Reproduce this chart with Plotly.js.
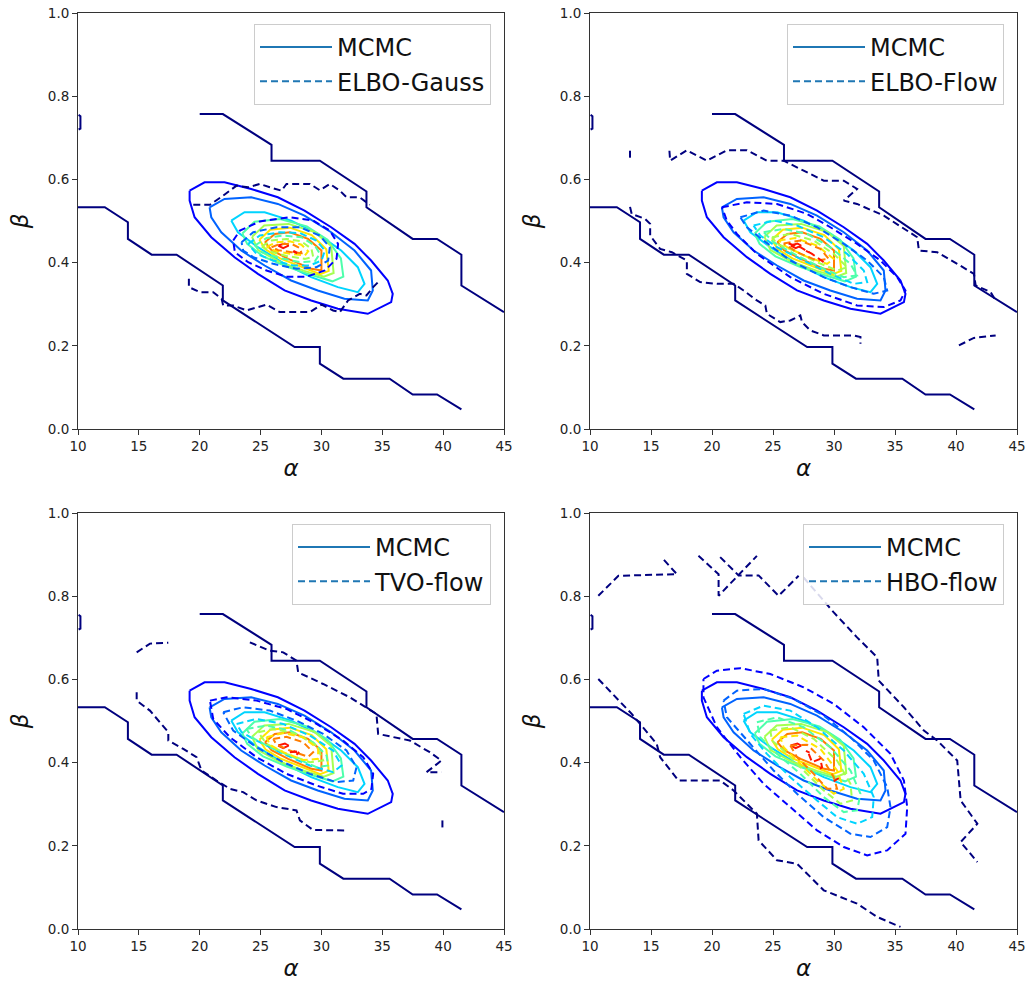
<!DOCTYPE html>
<html><head><meta charset="utf-8">
<script src="https://cdn.plot.ly/plotly-3.0.1.min.js"></script>
<style>html,body{margin:0;padding:0;background:#fff}#chart{width:1030px;height:985px}</style>
</head><body><div id="chart"></div>
<script>
// ---------- tick labels / categories ----------
const xTickVals = [10, 15, 20, 25, 30, 35, 40, 45];
const yTickVals = [0.0, 0.2, 0.4, 0.6, 0.8, 1.0];
const methodNames = ["ELBO-Gauss", "ELBO-Flow", "TVO-flow", "HBO-flow"];
const referenceName = "MCMC";
// contour level colours (jet colormap, low -> high density)
const levelColors = ["#00007f", "#0000ff", "#0063ff", "#00d4ff", "#4dffab", "#a5ff51", "#ffe500", "#ff7d00", "#ff1400"];

// ---------- MCMC contours [alpha, beta] (same in every panel) ----------
const mcmc_L1_upper = [[20.0,0.757],[21.9,0.757],[25.9,0.683],[25.9,0.645],[29.87,0.645],[33.7,0.571],[33.7,0.533],[37.5,0.457],[39.5,0.457],[41.5,0.419],[41.5,0.345],[45,0.281]];
const mcmc_L1_lower = [[10,0.533],[12.2,0.533],[14.1,0.497],[14.1,0.457],[16.05,0.419],[18.1,0.419],[21.9,0.345],[21.9,0.309],[27.8,0.197],[29.87,0.197],[29.87,0.157],[31.8,0.121],[35.6,0.121],[37.5,0.083],[39.5,0.083],[41.5,0.047]];
const mcmc_L1_stub = [[10.05,0.755],[10.2,0.752],[10.2,0.722],[10.05,0.72]];
const mcmc_L2 = [[19.17,0.573],[20.40,0.593],[22.04,0.593],[24.23,0.577],[26.42,0.557],[28.61,0.525],[30.80,0.485],[32.72,0.445],[34.08,0.405],[35.45,0.357],[35.86,0.325],[35.73,0.305],[33.81,0.277],[31.35,0.289],[29.16,0.309],[26.97,0.333],[24.78,0.373],[22.86,0.413],[20.95,0.461],[19.58,0.509],[19.17,0.549]];
const mcmc_L3 = [[20.81,0.533],[22.04,0.553],[24.23,0.557],[26.42,0.541],[28.61,0.513],[30.80,0.473],[32.72,0.429],[34.08,0.381],[34.22,0.333],[33.81,0.309],[31.89,0.313],[29.70,0.333],[27.51,0.357],[25.33,0.393],[23.41,0.429],[21.77,0.473],[20.95,0.509]];
const mcmc_L4 = [[22.59,0.501],[23.68,0.521],[25.33,0.521],[27.51,0.501],[29.70,0.469],[31.62,0.429],[32.99,0.389],[33.54,0.349],[32.99,0.329],[31.35,0.341],[29.16,0.365],[26.97,0.397],[24.78,0.437],[23.14,0.473]];
const mcmc_L5 = [[23.5,0.47],[24.5,0.498],[26.6,0.505],[28.8,0.487],[30.5,0.455],[31.6,0.41],[31.8,0.366],[30.9,0.355],[29.2,0.37],[27.2,0.39],[25.2,0.415],[23.9,0.445]];
const mcmc_L6 = [[24.3,0.462],[25.3,0.489],[27.3,0.493],[29.4,0.474],[30.8,0.44],[31.0,0.375],[30.2,0.366],[28.6,0.38],[26.5,0.403],[24.8,0.43]];
const mcmc_L7 = [[24.9,0.455],[25.8,0.479],[27.4,0.484],[29.2,0.466],[30.4,0.432],[30.6,0.38],[29.9,0.372],[28.5,0.388],[26.6,0.41],[25.4,0.432]];
const mcmc_L8 = [[25.36,0.449],[26.17,0.469],[27.4,0.473],[28.9,0.457],[30.0,0.429],[30.0,0.381],[29.19,0.385],[27.27,0.409],[25.9,0.43]];
const mcmc_L9a = [[26.45,0.441],[27.0,0.446],[27.3,0.441],[26.86,0.435]];
const mcmc_L9b = [[27.7,0.428],[28.0,0.424]];

// ---------- ELBO-Gauss contours ----------
const gauss_L1_top = [[19.47,0.539],[20.84,0.539],[21.93,0.561],[23.03,0.585],[23.98,0.581],[24.94,0.589],[25.76,0.581],[26.72,0.573],[27.13,0.589],[29.05,0.589],[29.87,0.574],[30.69,0.589],[31.51,0.573],[32.06,0.557],[33.15,0.557],[33.97,0.539]];
const gauss_L1_bot = [[19.11,0.361],[19.11,0.341],[20.02,0.329],[21.11,0.329],[21.80,0.313],[21.93,0.297],[22.75,0.297],[23.85,0.285],[25.49,0.299],[26.58,0.281],[29.05,0.281],[30.01,0.299],[30.96,0.285],[31.51,0.281],[32.19,0.309],[33.15,0.325],[33.70,0.321],[34.25,0.341],[34.79,0.357]];
const gauss_L2 = [[22.75,0.453],[23.30,0.477],[24.94,0.499],[27.41,0.509],[29.32,0.501],[30.69,0.477],[31.37,0.445],[31.24,0.409],[30.28,0.381],[28.77,0.366],[27.13,0.366],[25.49,0.381],[23.98,0.401],[22.89,0.425]];
const gauss_L3 = [[23.44,0.449],[24.40,0.473],[26.31,0.485],[28.23,0.485],[29.87,0.465],[30.69,0.437],[30.55,0.405],[29.59,0.389],[27.95,0.385],[26.04,0.397],[24.40,0.413],[23.57,0.429]];
const gauss_L4 = [[23.98,0.445],[24.94,0.465],[26.58,0.473],[28.23,0.471],[29.59,0.453],[30.28,0.429],[30.01,0.405],[29.05,0.393],[27.68,0.393],[26.04,0.405],[24.67,0.421]];
const gauss_L5 = [[24.53,0.441],[25.49,0.459],[26.86,0.465],[28.36,0.461],[29.46,0.441],[29.87,0.421],[29.46,0.403],[28.23,0.401],[26.58,0.411],[25.08,0.425]];
const gauss_L6 = [[25.08,0.439],[25.90,0.453],[27.13,0.457],[28.36,0.451],[29.18,0.433],[29.32,0.414],[28.64,0.409],[27.13,0.416],[25.76,0.427]];
const gauss_L7 = [[25.49,0.438],[26.31,0.449],[27.41,0.451],[28.36,0.443],[28.91,0.427],[28.64,0.417],[27.41,0.421],[26.17,0.429]];
const gauss_L8 = [[25.90,0.437],[26.58,0.445],[27.54,0.445],[28.23,0.435],[28.36,0.423],[27.54,0.425],[26.45,0.430]];
const gauss_L9 = [[27.68,0.427],[28.0,0.422]];

// ---------- ELBO-Flow contours ----------
const flow_L1_top = [[16.51,0.669],[16.57,0.645],[17.94,0.670],[19.58,0.645],[21.22,0.670],[22.86,0.670],[24.50,0.645],[25.87,0.645],[27.51,0.621],[29.16,0.597],[30.80,0.597],[31.89,0.577],[30.80,0.549],[31.89,0.541],[34.08,0.513],[36.82,0.461],[36.96,0.429],[38.46,0.425],[40.10,0.397],[41.47,0.373],[41.61,0.345],[42.84,0.329],[43.25,0.309]];
const flow_L1_stub = [[13.28,0.669],[13.28,0.645]];
const flow_L1_bot = [[13.28,0.534],[13.42,0.517],[14.52,0.505],[14.93,0.493],[14.93,0.465],[15.75,0.433],[16.71,0.425],[17.94,0.405],[17.94,0.373],[19.03,0.353],[20.40,0.349],[21.77,0.349],[22.59,0.333],[23.68,0.309],[24.37,0.297],[24.50,0.277],[25.60,0.257],[26.42,0.261],[27.24,0.273],[27.38,0.257],[28.06,0.237],[29.16,0.225],[31.62,0.225],[32.17,0.221],[32.17,0.205]];
const flow_L1_br = [[40.24,0.201],[41.47,0.219],[43.25,0.225]];
const flow_L2 = [[20.81,0.533],[22.86,0.545],[25.33,0.541],[27.79,0.517],[29.70,0.485],[31.89,0.445],[33.81,0.405],[35.18,0.365],[35.86,0.333],[35.45,0.309],[34.08,0.293],[31.89,0.297],[29.16,0.325],[26.42,0.365],[23.68,0.421],[22.04,0.469],[21.22,0.501]];
const flow_L3 = [[22.32,0.509],[24.23,0.525],[26.42,0.513],[28.61,0.485],[30.80,0.445],[32.72,0.405],[34.08,0.365],[34.36,0.333],[33.26,0.325],[31.35,0.341],[29.16,0.365],[26.42,0.405],[24.23,0.453],[22.86,0.485]];
const flow_L4 = [[23.41,0.489],[25.05,0.501],[26.97,0.489],[29.16,0.461],[31.07,0.421],[32.44,0.381],[32.72,0.353],[31.62,0.349],[29.70,0.373],[27.51,0.405],[25.33,0.437],[23.96,0.465]];
const flow_L5 = [[24.23,0.473],[25.87,0.481],[27.79,0.469],[29.70,0.437],[31.35,0.397],[31.89,0.369],[30.80,0.365],[29.16,0.385],[26.97,0.417],[25.05,0.449]];
const flow_L6 = [[24.92,0.461],[26.42,0.469],[28.34,0.453],[29.98,0.421],[31.07,0.389],[30.25,0.381],[28.61,0.401],[26.69,0.429],[25.33,0.445]];
const flow_L7 = [[25.46,0.453],[26.83,0.459],[28.61,0.441],[29.98,0.409],[29.43,0.397],[27.79,0.414],[26.15,0.437]];
const flow_L8 = [[25.87,0.446],[27.24,0.453],[28.88,0.433],[29.57,0.409],[28.61,0.405],[26.97,0.425]];
const flow_L9 = [[26.28,0.446],[27.24,0.437],[28.20,0.421],[29.16,0.401]];

// ---------- TVO-flow contours ----------
const tvo_L1_tl = [[14.82,0.665],[15.91,0.686],[17.42,0.688]];
const tvo_L1_tr = [[24.12,0.689],[25.76,0.669],[26.86,0.665],[27.95,0.645],[28.09,0.617],[30.14,0.589],[32.33,0.557],[34.52,0.517],[34.66,0.469],[37.26,0.453],[38.90,0.425],[39.86,0.405],[39.17,0.389],[38.63,0.377],[39.86,0.377]];
const tvo_L1_stub = [[39.94,0.261],[39.94,0.238]];
const tvo_L1_bot = [[14.82,0.569],[14.82,0.549],[15.91,0.525],[17.42,0.473],[17.42,0.453],[18.65,0.433],[19.74,0.413],[20.15,0.381],[21.38,0.357],[22.48,0.337],[23.57,0.329],[24.67,0.309],[26.31,0.293],[27.95,0.285],[28.23,0.261],[29.32,0.238],[32.06,0.237]];
const tvo_L2 = [[20.84,0.549],[22.21,0.557],[24.67,0.549],[27.13,0.529],[29.60,0.493],[31.78,0.453],[33.43,0.413],[34.25,0.373],[34.11,0.337],[33.43,0.325],[31.78,0.325],[29.60,0.345],[27.13,0.373],[24.67,0.413],[22.48,0.461],[21.11,0.505]];
const tvo_L3 = [[21.93,0.521],[23.57,0.533],[25.76,0.525],[27.95,0.501],[30.14,0.469],[32.06,0.429],[32.88,0.389],[32.61,0.357],[31.24,0.353],[29.05,0.373],[26.86,0.401],[24.67,0.437],[22.75,0.477]];
const tvo_L4 = [[23.03,0.493],[24.67,0.505],[26.86,0.493],[29.05,0.465],[30.96,0.429],[31.65,0.393],[30.96,0.377],[29.05,0.393],[26.86,0.421],[24.67,0.453],[23.44,0.473]];
const tvo_L5 = [[23.85,0.481],[25.49,0.489],[27.41,0.477],[29.32,0.449],[30.42,0.417],[30.55,0.393],[29.60,0.389],[27.68,0.413],[25.76,0.437],[24.26,0.461]];
const tvo_L6 = [[24.81,0.473],[26.04,0.481],[27.95,0.469],[29.60,0.441],[30.14,0.405],[29.05,0.401],[27.13,0.421],[25.49,0.445]];
const tvo_L7 = [[25.49,0.461],[26.86,0.471],[28.50,0.461],[29.73,0.433],[29.73,0.409],[28.50,0.406],[26.86,0.425],[25.76,0.443]];
const tvo_L8 = [[26.04,0.457],[27.13,0.462],[28.50,0.449],[29.32,0.425],[28.91,0.414],[27.41,0.429],[26.31,0.443]];
const tvo_L9 = [[27.41,0.425],[28.23,0.427],[27.95,0.419]];

// ---------- HBO-flow contours ----------
const hbo_L1_a = [[10.68,0.801],[12.33,0.849],[17.12,0.853],[15.88,0.893]];
const hbo_L1_b1 = [[18.89,0.897],[20.54,0.853],[20.54,0.801],[23.68,0.897]];
const hbo_L1_b2 = [[20.67,0.894],[22.18,0.850],[23.82,0.850],[25.46,0.801],[27.10,0.849]];
const hbo_L1_c = [[27.51,0.845],[29.98,0.761],[31.89,0.701],[33.54,0.653],[33.67,0.597],[35.73,0.533],[37.37,0.477],[38.46,0.453],[40.10,0.405],[40.38,0.309],[41.75,0.253],[40.38,0.209],[41.75,0.161]];
const hbo_L1_d = [[10.68,0.601],[13.42,0.517],[15.47,0.445],[15.75,0.413],[17.25,0.357],[20.67,0.357],[21.77,0.333],[23.68,0.277],[23.82,0.213],[25.33,0.165],[26.97,0.157],[29.16,0.093],[31.89,0.061],[33.54,0.029],[35.45,0.005]];
const hbo_L2 = [[19.30,0.601],[20.40,0.621],[22.32,0.627],[24.78,0.613],[27.51,0.581],[29.98,0.541],[32.44,0.485],[34.63,0.421],[35.73,0.357],[36.00,0.293],[35.86,0.229],[34.36,0.189],[32.72,0.177],[30.80,0.197],[28.61,0.237],[26.42,0.293],[24.23,0.349],[22.32,0.413],[20.40,0.485],[19.30,0.557]];
const hbo_L3 = [[20.95,0.549],[22.04,0.573],[24.23,0.577],[26.69,0.553],[29.16,0.513],[31.35,0.461],[33.26,0.405],[34.36,0.341],[34.63,0.293],[34.36,0.245],[32.99,0.221],[31.35,0.229],[29.16,0.269],[26.97,0.325],[25.05,0.381],[22.86,0.453],[21.22,0.509]];
const hbo_L4 = [[22.59,0.517],[24.23,0.537],[26.42,0.525],[28.61,0.485],[30.80,0.429],[32.44,0.373],[33.26,0.317],[33.13,0.269],[31.89,0.253],[30.25,0.269],[28.61,0.309],[26.42,0.365],[24.50,0.421],[23.14,0.469]];
const hbo_L5 = [[23.68,0.497],[25.33,0.509],[27.51,0.485],[29.70,0.437],[31.35,0.381],[32.17,0.325],[31.89,0.285],[30.80,0.281],[29.16,0.317],[27.24,0.373],[25.33,0.421],[23.96,0.461]];
const hbo_L6 = [[24.78,0.477],[26.42,0.485],[28.34,0.457],[30.25,0.405],[31.35,0.349],[31.48,0.309],[30.53,0.301],[29.16,0.333],[27.51,0.381],[25.87,0.429],[24.92,0.453]];
const hbo_L7 = [[25.60,0.461],[26.97,0.465],[28.88,0.433],[30.25,0.381],[30.80,0.337],[29.98,0.325],[28.61,0.357],[26.97,0.405],[25.87,0.437]];
const hbo_L8 = [[26.42,0.441],[27.79,0.443],[29.16,0.405],[29.98,0.365],[30.25,0.337],[29.43,0.337],[28.34,0.373],[26.97,0.413]];
const hbo_L9a = [[27.93,0.421],[28.20,0.401],[28.88,0.409],[29.02,0.389],[28.61,0.379]];
const hbo_L9b = [[29.98,0.355],[30.39,0.363]];

// ---------- path lists: [points, level index, closed] ----------
const mcmcPaths = [
  [mcmc_L1_upper,0,false],[mcmc_L1_lower,0,false],[mcmc_L1_stub,0,false],
  [mcmc_L2,1,true],[mcmc_L3,2,true],[mcmc_L4,3,true],[mcmc_L5,4,true],
  [mcmc_L6,5,true],[mcmc_L7,6,true],[mcmc_L8,7,true],[mcmc_L9a,8,true],[mcmc_L9b,8,false]
];
const methodPaths = [
  [[gauss_L1_top,0,false],[gauss_L1_bot,0,false],[gauss_L2,1,true],[gauss_L3,2,true],[gauss_L4,3,true],[gauss_L5,4,true],[gauss_L6,5,true],[gauss_L7,6,true],[gauss_L8,7,true],[gauss_L9,8,false]],
  [[flow_L1_top,0,false],[flow_L1_stub,0,false],[flow_L1_bot,0,false],[flow_L1_br,0,false],[flow_L2,1,true],[flow_L3,2,true],[flow_L4,3,true],[flow_L5,4,true],[flow_L6,5,true],[flow_L7,6,true],[flow_L8,7,true],[flow_L9,8,false]],
  [[tvo_L1_tl,0,false],[tvo_L1_tr,0,false],[tvo_L1_stub,0,false],[tvo_L1_bot,0,false],[tvo_L2,1,true],[tvo_L3,2,true],[tvo_L4,3,true],[tvo_L5,4,true],[tvo_L6,5,true],[tvo_L7,6,true],[tvo_L8,7,true],[tvo_L9,8,false]],
  [[hbo_L1_a,0,false],[hbo_L1_b1,0,false],[hbo_L1_b2,0,false],[hbo_L1_c,0,false],[hbo_L1_d,0,false],[hbo_L2,1,true],[hbo_L3,2,true],[hbo_L4,3,true],[hbo_L5,4,true],[hbo_L6,5,true],[hbo_L7,6,true],[hbo_L8,7,true],[hbo_L9a,8,false],[hbo_L9b,8,false]]
];

// ---------- build ----------
const W = 1030, H = 985;
const DASH = "7px,4px";
const LEGEND_COLOR = "#1f77b4";
const panels = [
  {x:[78,504], y:[13,429], legendRight:491, legendTop:24},
  {x:[590,1017], y:[13,429], legendRight:1004, legendTop:24},
  {x:[78,504], y:[513,929], legendRight:491, legendTop:524},
  {x:[590,1017], y:[513,929], legendRight:1004, legendTop:524}
];

function pathTrace(path, ax, dash) {
  const pts = path[0].slice();
  if (path[2]) pts.push(pts[0]);
  return {
    type: "scatter", mode: "lines",
    x: pts.map(p => p[0]), y: pts.map(p => p[1]),
    xaxis: ax.x, yaxis: ax.y,
    line: {color: levelColors[path[1]], width: 2, dash: dash},
    showlegend: false, hoverinfo: "skip"
  };
}

const traces = [];
const layout = {
  width: W, height: H,
  margin: {l:0, r:0, t:0, b:0},
  paper_bgcolor: "#ffffff", plot_bgcolor: "#ffffff",
  font: {family: "DejaVu Sans, sans-serif", color: "#222"},
  showlegend: true
};

panels.forEach((pn, i) => {
  const n = i === 0 ? "" : String(i + 1);
  const ax = {x: "x" + n, y: "y" + n};
  const legName = "legend" + n;

  mcmcPaths.forEach(p => traces.push(pathTrace(p, ax, "solid")));
  methodPaths[i].forEach(p => traces.push(pathTrace(p, ax, DASH)));

  // legend entries
  traces.push({type:"scatter", mode:"lines", x:[null], y:[null], xaxis:ax.x, yaxis:ax.y,
    name: referenceName, legend: legName, legendgroup: "a" + i,
    line:{color:LEGEND_COLOR, width:2}, hoverinfo:"skip"});
  traces.push({type:"scatter", mode:"lines", x:[null], y:[null], xaxis:ax.x, yaxis:ax.y,
    name: methodNames[i], legend: legName, legendgroup: "b" + i,
    line:{color:LEGEND_COLOR, width:2, dash:DASH}, hoverinfo:"skip"});

  const axCommon = {
    showline: true, mirror: true, linecolor: "#333", linewidth: 1,
    ticks: "outside", ticklen: 5, tickwidth: 1, tickcolor: "#333",
    showgrid: false, zeroline: false,
    tickfont: {size: 13.5, color: "#222", family: "DejaVu Sans, sans-serif"},
    automargin: false
  };
  layout["xaxis" + n] = Object.assign({}, axCommon, {
    domain: [pn.x[0] / W, pn.x[1] / W], range: [10, 45],
    tickvals: xTickVals, ticktext: xTickVals.map(String),
    anchor: ax.y,
    title: {text: "<i>α</i>", font: {size: 23, color: "#111"}, standoff: 6}
  });
  layout["yaxis" + n] = Object.assign({}, axCommon, {
    domain: [1 - pn.y[1] / H, 1 - pn.y[0] / H], range: [0, 1],
    tickvals: yTickVals, ticktext: yTickVals.map(v => v.toFixed(1)),
    anchor: ax.x,
    title: {text: "<i>β</i>", font: {size: 23, color: "#111"}, standoff: 12}
  });
  layout[legName] = {
    x: pn.legendRight / W, y: 1 - pn.legendTop / H,
    xanchor: "right", yanchor: "top",
    bgcolor: "rgba(255,255,255,0.85)", bordercolor: "#cccccc", borderwidth: 1,
    font: {size: 24, color: "#111", family: "DejaVu Sans, sans-serif"},
    itemwidth: 72, tracegroupgap: 8, traceorder: "normal"
  };
});

Plotly.newPlot("chart", traces, layout, {staticPlot: true, displayModeBar: false});
</script>
</body></html>
